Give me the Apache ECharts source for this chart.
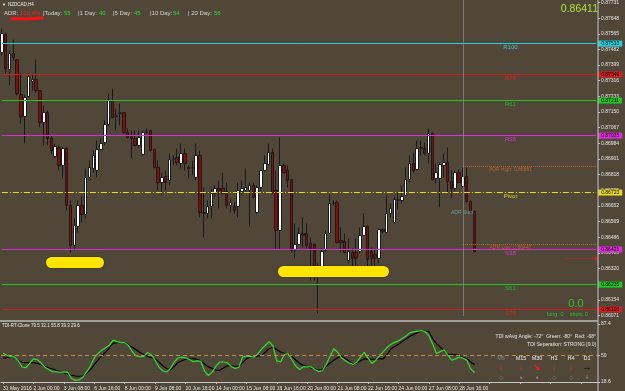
<!DOCTYPE html>
<html>
<head>
<meta charset="utf-8">
<title>NZDCAD,H4</title>
<script src="https://cdn.jsdelivr.net/npm/echarts@6/dist/echarts.min.js"></script>
<style>
  html, body { margin: 0; padding: 0; background: #514738; }
  #chart { width: 625px; height: 391px; }
</style>
</head>
<body>
<div id="chart"></div>
<script>
// H4 bars
var open = [
  0.87465,0.87561,0.87375,0.87460,0.87428,0.87243,0.87126,0.87232,0.87312,0.87322,
  0.87264,0.87094,0.87147,0.87010,0.86914,0.86962,0.86867,0.86957,0.86655,0.86443,
  0.86543,0.86655,0.86607,0.86803,0.86851,0.86840,0.86951,0.86988,0.87084,0.87211,
  0.87126,0.87142,0.87147,0.87041,0.87020,0.87010,0.86973,0.86925,0.87041,0.87052,
  0.86951,0.86856,0.86776,0.86808,0.86787,0.86898,0.86909,0.86877,0.86930,0.86856,
  0.86851,0.86803,0.86920,0.86617,0.86612,0.86649,0.86718,0.86745,0.86745,0.86729,
  0.86655,0.86649,0.86649,0.86729,0.86734,0.86734,0.86761,0.86617,0.86750,0.86840,
  0.86872,0.86935,0.86734,0.86522,0.86867,0.86840,0.86792,0.86416,0.86448,0.86506,
  0.86506,0.86453,0.86448,0.86331,0.86331,0.86416,0.86506,0.86665,0.86670,0.86469,
  0.86464,0.86363,0.86405,0.86405,0.86411,0.86496,0.86543,0.86411,0.86395,0.86374,
  0.86527,0.86511,0.86612,0.86564,0.86681,0.86681,0.86708,0.86792,0.86877,0.86845,
  0.86957,0.86957,0.86930,0.87036,0.86798,0.86798,0.86867,0.86882,0.86782,0.86745,
  0.86829,0.86755,0.86808,0.86676,0.86623
];
var close = [
  0.87566,0.87381,0.87460,0.87439,0.87248,0.87126,0.87227,0.87338,0.87322,0.87264,
  0.87094,0.87147,0.87010,0.86946,0.86967,0.86867,0.86957,0.86655,0.86443,0.86549,
  0.86655,0.86607,0.86803,0.86856,0.86920,0.86951,0.86983,0.87084,0.87216,0.87121,
  0.87132,0.87147,0.87041,0.87015,0.87010,0.86973,0.87015,0.87041,0.87047,0.86946,
  0.86856,0.86776,0.86803,0.86776,0.86898,0.86904,0.86882,0.86930,0.86877,0.86851,
  0.86856,0.86920,0.86617,0.86612,0.86649,0.86718,0.86745,0.86734,0.86718,0.86655,
  0.86670,0.86628,0.86734,0.86745,0.86750,0.86761,0.86697,0.86750,0.86840,0.86877,
  0.86935,0.86723,0.86522,0.86867,0.86829,0.86787,0.86416,0.86448,0.86506,0.86496,
  0.86443,0.86427,0.86321,0.86321,0.86411,0.86506,0.86665,0.86670,0.86458,0.86458,
  0.86405,0.86411,0.86374,0.86374,0.86496,0.86543,0.86368,0.86374,0.86374,0.86527,
  0.86517,0.86612,0.86639,0.86686,0.86686,0.86702,0.86792,0.86877,0.86840,0.86957,
  0.86962,0.86930,0.87036,0.86792,0.86829,0.86872,0.86882,0.86782,0.86745,0.86829,
  0.86776,0.86808,0.86676,0.86617,0.86411
];
var low = [
  0.87450,0.87354,0.87291,0.87423,0.87238,0.87089,0.86983,0.87227,0.87264,0.87253,
  0.87068,0.86973,0.86973,0.86930,0.86904,0.86840,0.86798,0.86628,0.86405,0.86416,
  0.86511,0.86564,0.86586,0.86787,0.86829,0.86803,0.86946,0.86973,0.87073,0.87116,
  0.87052,0.87079,0.87036,0.87010,0.86904,0.86967,0.86962,0.86920,0.87036,0.86941,
  0.86851,0.86734,0.86708,0.86734,0.86761,0.86867,0.86867,0.86851,0.86840,0.86798,
  0.86814,0.86787,0.86591,0.86485,0.86586,0.86586,0.86697,0.86639,0.86713,0.86639,
  0.86617,0.86612,0.86591,0.86708,0.86723,0.86543,0.86692,0.86612,0.86734,0.86835,
  0.86867,0.86718,0.86416,0.86416,0.86824,0.86750,0.86405,0.86374,0.86443,0.86432,
  0.86427,0.86257,0.86257,0.86082,0.86310,0.86405,0.86506,0.86655,0.86453,0.86405,
  0.86400,0.86347,0.86326,0.86326,0.86400,0.86496,0.86326,0.86326,0.86326,0.86347,
  0.86506,0.86506,0.86591,0.86559,0.86633,0.86665,0.86708,0.86776,0.86829,0.86840,
  0.86920,0.86920,0.86877,0.86787,0.86771,0.86644,0.86803,0.86723,0.86692,0.86734,
  0.86771,0.86750,0.86670,0.86612,0.86405
];
var high = [
  0.87593,0.87571,0.87476,0.87534,0.87428,0.87359,0.87238,0.87354,0.87354,0.87428,
  0.87264,0.87185,0.87158,0.87026,0.86983,0.86973,0.86962,0.86962,0.86681,0.86586,
  0.86681,0.86702,0.86851,0.86893,0.86946,0.86999,0.87010,0.87105,0.87248,0.87275,
  0.87169,0.87195,0.87147,0.87063,0.87052,0.87052,0.87052,0.87052,0.87063,0.87057,
  0.86957,0.86893,0.86829,0.86840,0.86930,0.86920,0.86957,0.86983,0.86957,0.86867,
  0.86893,0.86983,0.86946,0.86750,0.86681,0.86745,0.86761,0.86787,0.86829,0.86776,
  0.86692,0.86670,0.86776,0.86787,0.86851,0.86776,0.86776,0.86761,0.86840,0.86920,
  0.86983,0.86957,0.86840,0.87015,0.86877,0.86867,0.86792,0.86559,0.86538,0.86591,
  0.86559,0.86485,0.86448,0.86347,0.86427,0.86522,0.86713,0.86681,0.86681,0.86538,
  0.86506,0.86480,0.86427,0.86480,0.86538,0.86612,0.86549,0.86432,0.86427,0.86533,
  0.86533,0.86708,0.86665,0.86702,0.86723,0.86761,0.86856,0.86920,0.86935,0.86999,
  0.86999,0.86988,0.87063,0.87041,0.86877,0.86882,0.86930,0.86962,0.86840,0.86840,
  0.86845,0.86856,0.86856,0.86681,0.86628
];

// TDI sub-window: green price line and black signal line
var tdiGreen = [
  52.8,50.4,48.6,48.2,43.8,36.4,35.5,40.6,46.1,45.2,
  41.3,36.1,33.5,30.9,30.5,30.2,30.3,30.3,22.7,20.5,
  21.1,24.2,30.7,37.5,47.1,52.5,56.4,59.2,62.4,68.2,
  66.5,65.3,65.3,61.8,54.8,49.7,48.6,49.0,53.5,51.0,
  44.6,36.3,31.9,30.4,34.3,42.2,47.1,48.0,47.3,45.4,
  42.6,43.7,43.3,31.6,26.3,30.0,37.5,42.3,42.3,41.4,
  37.1,34.7,35.8,48.1,49.4,48.9,48.2,51.9,57.6,62.2,
  66.4,61.3,43.6,42.3,51.3,51.9,44.7,37.5,33.5,36.6,
  36.7,36.6,33.5,30.9,31.9,39.1,49.0,58.1,53.9,47.7,
  43.9,41.5,39.4,42.0,48.1,53.8,47.0,40.6,44.2,49.9,
  54.6,59.3,63.3,65.6,67.4,70.1,73.1,76.9,78.1,79.0,
  79.5,78.2,73.6,63.7,52.4,54.6,56.6,50.4,44.4,46.0,
  48.1,46.9,44.4,34.4,29.6
];
var tdiSignal = [
  47.0,47.7,48.4,47.4,44.6,41.9,41.5,41.5,41.5,40.8,
  38.9,37.1,35.5,34.0,32.5,31.1,29.6,28.2,26.9,25.7,
  25.4,25.6,29.0,33.3,39.1,44.9,50.0,54.0,59.4,64.6,
  65.3,65.3,65.3,62.9,59.9,57.0,54.0,51.2,49.0,47.6,
  46.1,42.2,38.1,34.7,32.8,37.0,41.6,43.8,45.5,46.8,
  46.3,45.5,43.7,39.9,36.6,34.7,32.8,32.5,35.2,37.9,
  37.9,37.2,37.2,41.6,46.0,48.4,48.9,49.4,50.1,54.1,
  58.3,59.5,57.0,54.3,52.7,51.2,48.9,44.7,40.7,38.3,
  36.8,35.3,34.0,32.6,33.2,37.2,41.2,44.4,47.4,49.6,
  46.6,43.5,40.4,40.8,43.5,46.1,45.8,45.6,45.8,46.3,
  46.1,51.0,57.6,60.6,63.5,66.5,69.7,72.8,75.1,77.1,
  78.6,78.6,78.6,69.9,64.1,59.9,55.5,51.7,51.4,50.9,
  49.8,47.9,46.2,42.3,39.3
];

var timeLabels = ['31 May 2016','2 Jun 00:00','3 Jun 08:00','6 Jun 16:00','8 Jun 00:00','9 Jun 08:00',
  '10 Jun 16:00','14 Jun 00:00','15 Jun 08:00','16 Jun 16:00','20 Jun 00:00','21 Jun 08:00',
  '22 Jun 16:00','24 Jun 00:00','27 Jun 08:00','28 Jun 16:00'];

// fib pivot levels of the day
var levelNames  = ['R100','R78','R61','R38','Pivot','S38','S61','S78'];
var levelValues = [0.87513,0.87349,0.87211,0.87025,0.86723,0.86421,0.86235,0.86103];
var adrHigh = 0.86861;
var adrLow = 0.86447;
var orderPrice = 0.86374;
var lastPrice = '0.86411';
var adrStartBar = 121;

var adrText = [['ADR:', '100.4%'], ['|Today:', '55'], ['|1 Day:', '40'], ['|5 Day:', '45'], ['|10 Day:', '54'], ['| 20 Day:', '56']];
var tdiHeader = 'TDI-RT-Clone 79.5 32.1 55.8 39.3 29.6';
var tfNames = ['M5','M15','M30','H1','H4','D1'];
var tfArrows = ['\u2193','\u2193','\u2198','\u2193','\u2193','\u2192'];
var tfDots = ['\u25CB','\u25CF','\u25CF','\u25CB','\u25CB','+'];
var priceTicks = [];
for (var k = 0; k <= 20; k++) priceTicks.push(+(0.86071 + k * 0.00083).toFixed(5));

// ---- styles / layout ----
var FONT = 'Liberation Sans';
var CLEAR = 'rgba(0,0,0,0)';
var levelColors = ['#1fd2de','#d21e1e','#22c822','#dc2cdc','#e6da1e','#dc2cdc','#22c822','#d21e1e'];
var levelText   = ['#3cc8d4','#e02222','#2cbc2c','#d636d6','#d8d040','#d636d6','#2cbc2c','#e02222'];
var slots = 157;          // bar slots across the window (chart shift on the right)
var slotW = 3.819;
var gridLeft = -1.51;
var lastSlot = slots - 1;

var cats = [];
for (var i = 0; i < slots; i++) {
  cats.push(i % 8 === 0 && i / 8 < timeLabels.length ? timeLabels[i / 8] : '');
}
var ohlc = open.map(function (o, i) { return [o, close[i], low[i], high[i]]; });

// horizontal segment helper (from bar a to bar b at price v)
function seg(a, b, v, lineStyle, label) {
  return [
    { xAxis: a, yAxis: v, lineStyle: lineStyle, label: label || { show: false } },
    { xAxis: b, yAxis: v }
  ];
}
function nameLabel(text, color, size) {
  return { show: true, position: 'insideMiddleBottom', distance: 1, formatter: text,
    color: color, fontSize: size, fontFamily: FONT };
}

var lines = [];
levelNames.forEach(function (n, k) {
  lines.push(seg(0, lastSlot, levelValues[k],
    { color: levelColors[k], width: 1, type: k === 4 ? [6, 2, 1, 2] : 'solid' },
    { show: true, position: 'end', distance: 2, formatter: levelValues[k].toFixed(5),
      backgroundColor: levelColors[k], color: '#000', fontSize: 5, fontFamily: FONT, padding: [1, 3, 0, 3] }));
});
[[adrHigh, 'ADR High: '], [adrLow, 'ADR Low: ']].forEach(function (a) {
  lines.push(seg(adrStartBar, lastSlot, a[0], { color: '#c0642e', type: 'dotted', width: 1 }));
});
lines.push({ xAxis: adrStartBar, lineStyle: { color: '#a8a8a8', type: 'dotted', width: 1 }, label: { show: false } });
var ord = seg(148, lastSlot, orderPrice, { color: '#e01c1c', type: 'dotted', width: 1 });
ord[1].symbol = 'rect';
ord[1].symbolSize = 3;
lines.push(ord);
// text labels of the levels, sitting under each line
levelNames.forEach(function (n, k) {
  lines.push(seg(133, 134, levelValues[k], { color: CLEAR, width: 0 }, nameLabel(n, levelText[k], 6)));
});
[[adrHigh, 'ADR High: '], [adrLow, 'ADR Low: ']].forEach(function (a) {
  lines.push(seg(133, 134, a[0], { color: CLEAR, width: 0 }, nameLabel(a[1] + a[0].toFixed(5), '#b8622e', 5)));
});

function txt(x, y, s, fill, size, align, extra) {
  var st = { text: s, fill: fill, fontSize: size, fontFamily: FONT, align: align || 'left', verticalAlign: 'middle' };
  if (extra) for (var key in extra) st[key] = extra[key];
  return { type: 'text', x: x, y: y, z: 100, style: st };
}

var graphics = [
  { type: 'line', z: 90, shape: { x1: 598, y1: 0, x2: 598, y2: 391 }, style: { stroke: '#c6c6c6', lineWidth: 1 } },
  { type: 'line', z: 90, shape: { x1: 0, y1: 321, x2: 598, y2: 321 }, style: { stroke: '#bdbdbd', lineWidth: 1.5 } },
  txt(2, 4.5, '\u25BC', '#ffffff', 4),
  txt(8, 4.5, 'NZDCAD,H4', '#f2f2f2', 4.5),
  txt(598, 9, lastPrice, '#b6e23a', 10.5, 'right'),
  txt(451, 213, 'ADR Start', '#6f9aa6', 5),
  txt(576, 304, '0.0', '#2fc42f', 11, 'center'),
  txt(547, 314, 'long: 0    short: 0', '#2fc42f', 5.5),
  txt(2, 326, tdiHeader, '#f0f0f0', 4.5),
  txt(596, 337, 'TDI wAvg Angle: -72\u00B0  Green: -80\u00B0  Red: -68\u00B0', '#e8e8e8', 5, 'right'),
  txt(596, 345, 'TDI Seperation: STRONG [9.0]', '#e8e8e8', 5, 'right'),
  { type: 'rect', z: 80, shape: { x: 46, y: 257, width: 58, height: 11, r: 5.5 },
    style: { fill: '#ffe500', shadowBlur: 2, shadowColor: 'rgba(0,0,0,0.45)' } },
  { type: 'rect', z: 80, shape: { x: 278, y: 266, width: 111, height: 11, r: 5.5 },
    style: { fill: '#ffe500', shadowBlur: 2, shadowColor: 'rgba(0,0,0,0.45)' } },
  { type: 'polyline', z: 101, shape: { points: [[12, 18.8], [27, 19], [42, 18]] },
    style: { stroke: '#ff1010', lineWidth: 3, lineCap: 'round', fill: null } }
];
var adrX = [[4, 20], [43, 64], [78, 99], [113, 134], [150, 173], [188, 214]];
adrText.forEach(function (s, k) {
  graphics.push(txt(adrX[k][0], 13, s[0], '#d6d6d6', 6));
  graphics.push(txt(adrX[k][1], 13, s[1], k === 0 ? '#ff2020' : '#22e022', 6));
});
var tfX = [501, 521, 537, 554, 571, 587];
tfNames.forEach(function (n, k) {
  graphics.push(txt(tfX[k], 358, n, k === 0 ? '#8a8a8a' : '#ececec', 5.5, 'center'));
  graphics.push(txt(tfX[k], 368, tfArrows[k], k === 5 ? '#000000' : '#ff1a1a', 9, 'center', { fontWeight: 'bold' }));
  graphics.push(txt(tfX[k], 378, tfDots[k], '#8c8c8c', k === 1 || k === 2 ? 5 : 7, 'center'));
});

var chart = echarts.init(document.getElementById('chart'), null, { renderer: 'canvas' });
chart.setOption({
  animation: false,
  backgroundColor: '#514738',
  grid: [
    { left: gridLeft, top: 0.5, width: slots * slotW, height: 315 },
    { left: gridLeft, top: 324, width: slots * slotW, height: 60 }
  ],
  xAxis: [
    { type: 'category', gridIndex: 0, data: cats, boundaryGap: true, show: false },
    { type: 'category', gridIndex: 1, data: cats, boundaryGap: true,
      axisLine: { lineStyle: { color: '#c6c6c6' } },
      axisTick: { show: true, interval: 7, length: 2, alignWithLabel: true, lineStyle: { color: '#c6c6c6' } },
      axisLabel: { interval: 7, align: 'left', fontSize: 5, color: '#e6e6e6', margin: 4, fontFamily: FONT } }
  ],
  yAxis: [
    { type: 'value', gridIndex: 0, position: 'right', min: 0.86071, max: 0.87741,
      axisLine: { show: false }, splitLine: { show: false },
      axisTick: { show: true, length: 2, customValues: priceTicks, lineStyle: { color: '#c6c6c6' } },
      axisLabel: { customValues: priceTicks, fontSize: 5, color: '#e6e6e6', margin: 3, fontFamily: FONT,
        formatter: function (v) { return v.toFixed(5); } } },
    { type: 'value', gridIndex: 1, position: 'right', min: 18.6, max: 87.4,
      axisLine: { show: false }, splitLine: { show: false },
      axisTick: { show: true, length: 2, customValues: [18.6, 50, 87.4], lineStyle: { color: '#c6c6c6' } },
      axisLabel: { customValues: [18.6, 50, 87.4], fontSize: 5, color: '#e6e6e6', margin: 3, fontFamily: FONT,
        formatter: function (v) { return v === 50 ? '50' : v.toFixed(1); } } }
  ],
  series: [
    { type: 'candlestick', xAxisIndex: 0, yAxisIndex: 0, data: ohlc, barWidth: 3,
      itemStyle: { color: '#ffffff', color0: '#8c0a0a', borderColor: '#1a1a1a', borderColor0: '#1a1a1a', borderWidth: 1 },
      markLine: { silent: true, symbol: ['none', 'none'], animation: false, data: lines } },
    { type: 'line', xAxisIndex: 1, yAxisIndex: 1, data: tdiSignal, symbol: 'none',
      lineStyle: { color: '#000000', width: 1.2 } },
    { type: 'line', xAxisIndex: 1, yAxisIndex: 1, data: tdiGreen, symbol: 'none',
      lineStyle: { color: '#2ee02e', width: 1.2 },
      markLine: { silent: true, symbol: ['none', 'none'], animation: false, label: { show: false },
        lineStyle: { color: '#c89040', type: [4, 3], width: 1 }, data: [{ yAxis: 50 }] } }
  ],
  graphic: graphics
});
</script>
</body>
</html>
